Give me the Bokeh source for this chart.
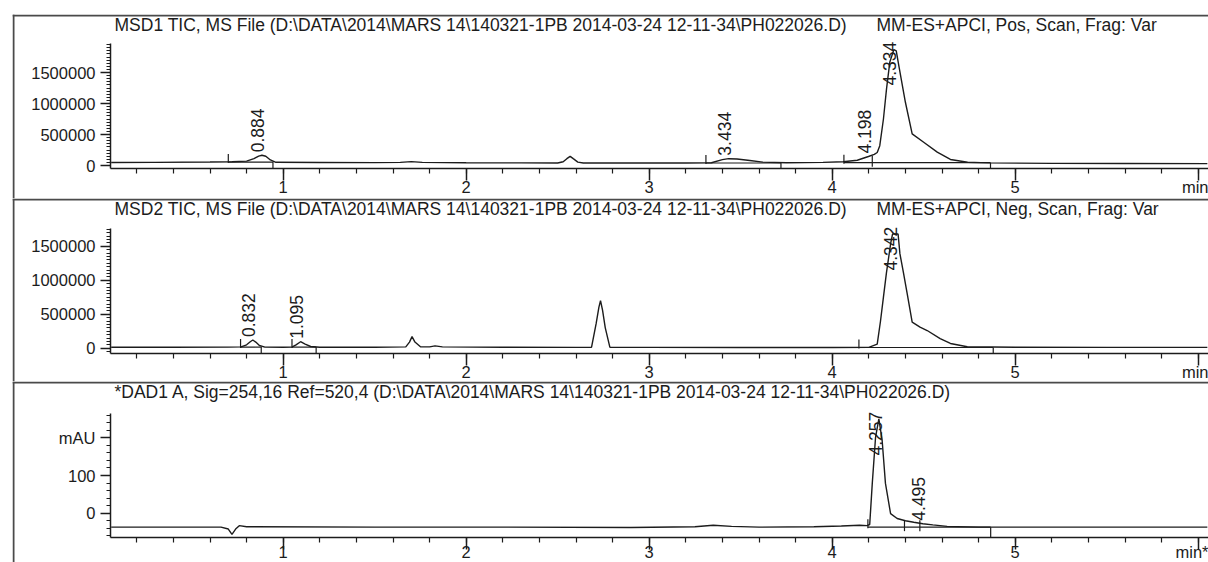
import math
from bokeh.plotting import figure
from bokeh.models import (LinearAxis, SingleIntervalTicker, Range1d, Label, Span,
                          BasicTickFormatter, ColumnDataSource)
from bokeh.layouts import column
from bokeh.embed import file_html
from bokeh.resources import INLINE
from bokeh.core.properties import value

# ---------------- data ----------------
# Panel 1: MSD1 TIC, positive scan
msd1_time = [0.06, 0.30, 0.60, 0.72, 0.80, 0.84, 0.866, 0.884, 0.905, 0.93, 0.96, 1.20, 1.50,
             1.64, 1.70, 1.76, 2.00, 2.30, 2.50, 2.53, 2.55, 2.568, 2.585, 2.61, 2.64, 2.90,
             3.20, 3.34, 3.40, 3.434, 3.48, 3.55, 3.62, 3.75, 3.95, 4.06, 4.137, 4.198, 4.23,
             4.246, 4.26, 4.28, 4.297, 4.315, 4.337, 4.35, 4.364, 4.40, 4.437, 4.50, 4.574,
             4.646, 4.74, 4.85, 5.20, 5.60, 6.05]
msd1_tic = [48000, 50000, 56000, 60000, 70000, 110000, 150000, 165000, 150000, 90000, 52000,
            48000, 46000, 50000, 62000, 50000, 45000, 42000, 40000, 60000, 110000, 148000,
            110000, 55000, 40000, 40000, 40000, 45000, 95000, 110000, 105000, 80000, 55000,
            45000, 50000, 60000, 85000, 145000, 180000, 210000, 320000, 750000, 1240000,
            1670000, 1870000, 1850000, 1610000, 1020000, 510000, 375000, 215000, 97000, 52000,
            42000, 35000, 32000, 30000]
msd1_peak_rt = [0.884, 3.434, 4.198, 4.334]
msd1_peak_height = [165000, 110000, 145000, 1870000]
msd1_int_start = [0.70, 3.31, 4.064]
msd1_int_end = [0.944, 3.72, 4.865]
msd1_int_level = [56000, 40000, 45000]
msd1_int_split = [4.219]

# Panel 2: MSD2 TIC, negative scan
msd2_time = [0.06, 0.40, 0.70, 0.77, 0.80, 0.82, 0.834, 0.85, 0.87, 0.90, 1.00, 1.05, 1.07,
             1.095, 1.12, 1.15, 1.20, 1.50, 1.67, 1.69, 1.704, 1.72, 1.75, 1.80, 1.83, 1.87,
             2.20, 2.60, 2.685, 2.71, 2.725, 2.734, 2.745, 2.76, 2.785, 3.00, 3.50, 4.00, 4.20,
             4.246, 4.264, 4.28, 4.296, 4.32, 4.33, 4.36, 4.37, 4.39, 4.41, 4.437, 4.48, 4.519,
             4.59, 4.646, 4.738, 5.00, 5.50, 6.05]
msd2_tic = [15000, 15000, 16000, 20000, 50000, 95000, 120000, 90000, 40000, 16000, 15000,
            18000, 50000, 95000, 60000, 25000, 15000, 15000, 20000, 90000, 170000, 90000,
            22000, 20000, 35000, 20000, 15000, 12000, 15000, 360000, 600000, 700000, 560000,
            300000, 15000, 12000, 10000, 10000, 12000, 60000, 400000, 750000, 1100000,
            1550000, 1680000, 1680000, 1390000, 1100000, 800000, 383000, 310000, 260000,
            142000, 70000, 22000, 15000, 12000, 12000]
msd2_peak_rt = [0.832, 1.095, 4.342]
msd2_peak_height = [120000, 95000, 1680000]
msd2_int_start = [0.767, 1.048, 4.146]
msd2_int_end = [0.88, 1.18, 4.88]
msd2_int_level = [16000, 16000, 10000]
msd2_int_split = []

# Panel 3: DAD1 A, 254 nm (mAU)
dad_time = [0.06, 0.40, 0.66, 0.70, 0.72, 0.74, 0.76, 0.80, 1.50, 2.20, 2.90, 3.25, 3.35,
            3.45, 3.60, 3.90, 4.05, 4.15, 4.19, 4.205, 4.219, 4.237, 4.255, 4.273, 4.291,
            4.319, 4.355, 4.40, 4.446, 4.495, 4.55, 4.628, 4.80, 5.50, 6.05]
dad_mau = [-37, -37, -37, -42, -56, -42, -33, -36, -37, -37, -38, -36, -32, -35, -37, -36,
           -34, -32, -33, -30, 79, 202, 250, 193, 79, -1, -14, -20, -24, -28, -31, -35, -37,
           -37, -37]
dad_peak_rt = [4.257, 4.495]
dad_peak_height = [250, -28]
dad_int_start = [4.195]
dad_int_end = [4.866]
dad_int_level = [-37]
dad_int_split = [4.395, 4.479]

titles_main = [
    "MSD1 TIC, MS File (D:\\DATA\\2014\\MARS 14\\140321-1PB 2014-03-24 12-11-34\\PH022026.D)",
    "MSD2 TIC, MS File (D:\\DATA\\2014\\MARS 14\\140321-1PB 2014-03-24 12-11-34\\PH022026.D)",
    "*DAD1 A, Sig=254,16 Ref=520,4 (D:\\DATA\\2014\\MARS 14\\140321-1PB 2014-03-24 12-11-34\\PH022026.D)",
]
titles_side = ["MM-ES+APCI, Pos, Scan, Frag: Var", "MM-ES+APCI, Neg, Scan, Frag: Var", ""]

# ---------------- layout constants ----------------
FONT = "Liberation Sans"
FS = "17.5px"        # titles and peak labels
FS_TICK = "16.5px"   # axis tick labels
INK = "#1c1c1c"
PX_T1 = 282.7      # page pixel of t = 1 min
PX_PER_MIN = 183.0


def tx(px):
    return 1 + (px - PX_T1) / PX_PER_MIN


def make_panel(time, sig, peak_rt, peak_h, i_start, i_end, i_level, i_split,
               title_a, title_b, frame_top, frame_bottom, canvas_top, zero_px, per_px,
               axis_px, ytop_px, y_interval, y_minor, x_over, y_over, x_standoff):
    def vy(px):
        return (zero_px - px) * per_px

    height = frame_bottom - canvas_top
    p = figure(width=1208, height=height, output_backend="svg", toolbar_location=None,
               x_range=Range1d(tx(12), tx(1208)),
               y_range=Range1d(vy(frame_bottom), vy(frame_top)),
               x_axis_type=None, y_axis_type=None,
               min_border_left=12, min_border_right=0,
               min_border_top=frame_top - canvas_top, min_border_bottom=0,
               outline_line_color=None, background_fill_color="white",
               border_fill_color="white")
    p.xgrid.visible = False
    p.ygrid.visible = False

    x_axis_y = vy(axis_px)
    xaxis = LinearAxis(ticker=SingleIntervalTicker(interval=1, num_minor_ticks=5),
                       fixed_location=x_axis_y, bounds=(tx(110), tx(1208)))
    yaxis = LinearAxis(ticker=SingleIntervalTicker(interval=y_interval, num_minor_ticks=y_minor),
                       formatter=BasicTickFormatter(use_scientific=False),
                       fixed_location=tx(110), bounds=(x_axis_y, vy(ytop_px)))
    for ax in (xaxis, yaxis):
        ax.axis_line_color = INK
        ax.axis_line_width = 1.5
        ax.major_tick_line_color = INK
        ax.major_tick_line_width = 1.5
        ax.minor_tick_line_color = INK
        ax.minor_tick_line_width = 1.2
        ax.major_tick_in = 0
        ax.minor_tick_in = 0
        ax.major_label_text_font = FONT
        ax.major_label_text_font_size = FS_TICK
        ax.major_label_text_color = INK
    xaxis.major_tick_out = 12
    xaxis.minor_tick_out = 5
    xaxis.major_label_standoff = x_standoff
    xaxis.major_label_overrides = x_over
    yaxis.major_tick_out = 10
    yaxis.minor_tick_out = 4
    yaxis.major_label_standoff = 5
    if y_over:
        yaxis.major_label_overrides = y_over
    p.add_layout(xaxis, "below")
    p.add_layout(yaxis, "left")

    # panel border lines
    p.add_layout(Span(location=tx(13), dimension="height", line_color="#4a4a4a", line_width=2))
    p.add_layout(Span(location=vy(frame_top + 1), dimension="width", line_color="#4a4a4a",
                      line_width=2))

    # trace
    p.line(time, sig, line_color=INK, line_width=1.4)

    # integration baselines and event marks
    xs0, ys0, xs1, ys1 = [], [], [], []
    for s, e, lv in zip(i_start, i_end, i_level):
        xs0 += [s, s, e]
        ys0 += [lv, lv - 1 * per_px, lv]
        xs1 += [e, s, e]
        ys1 += [lv, lv + 8 * per_px, x_axis_y]
    for sp in i_split:
        lv = i_level[0]
        for s, e, l in zip(i_start, i_end, i_level):
            if s <= sp <= e:
                lv = l
        xs0.append(sp)
        ys0.append(lv - 4 * per_px)
        xs1.append(sp)
        ys1.append(lv + 7 * per_px)
    p.segment(x0=xs0, y0=ys0, x1=xs1, y1=ys1, line_color=INK, line_width=1.2)

    # peak retention-time labels
    cap = vy(ytop_px + 45)
    lab_y = [min(h, cap) for h in peak_h]
    src = ColumnDataSource(dict(x=peak_rt, y=lab_y, t=[f"{r:.3f}" for r in peak_rt]))
    p.text(x="x", y="y", text="t", source=src, angle=math.pi / 2, text_align="left",
           text_baseline="alphabetic", x_offset=-4, y_offset=-3,
           text_font=value(FONT), text_font_size=value(FS), text_color=INK)

    # titles
    p.add_layout(Label(x=tx(114), y=vy(frame_top + 10), text=title_a, text_baseline="middle",
                       text_font=FONT, text_font_size=FS, text_color=INK))
    if title_b:
        p.add_layout(Label(x=tx(876), y=vy(frame_top + 10), text=title_b,
                           text_baseline="middle", text_font=FONT, text_font_size=FS,
                           text_color=INK))
    return p


p1 = make_panel(msd1_time, msd1_tic, msd1_peak_rt, msd1_peak_height, msd1_int_start,
                msd1_int_end, msd1_int_level, msd1_int_split, titles_main[0], titles_side[0],
                frame_top=14, frame_bottom=198, canvas_top=0, zero_px=165.0,
                per_px=500000 / 31.0, axis_px=168.0, ytop_px=43.0,
                y_interval=500000, y_minor=10, x_over={6: "min"}, y_over=None, x_standoff=-3)
p2 = make_panel(msd2_time, msd2_tic, msd2_peak_rt, msd2_peak_height, msd2_int_start,
                msd2_int_end, msd2_int_level, msd2_int_split, titles_main[1], titles_side[1],
                frame_top=198, frame_bottom=381, canvas_top=198, zero_px=347.7,
                per_px=500000 / 34.0, axis_px=353.0, ytop_px=228.0,
                y_interval=500000, y_minor=10, x_over={6: "min"}, y_over=None, x_standoff=-3)
p3 = make_panel(dad_time, dad_mau, dad_peak_rt, dad_peak_height, dad_int_start,
                dad_int_end, dad_int_level, dad_int_split, titles_main[2], titles_side[2],
                frame_top=381, frame_bottom=562, canvas_top=381, zero_px=512.7,
                per_px=100 / 37.7, axis_px=536.7, ytop_px=413.0,
                y_interval=100, y_minor=5, x_over={6: "min*"}, y_over={200: "mAU"},
                x_standoff=-6)

layout = column(p1, p2, p3, spacing=0)
open("out.html", "w").write(file_html(layout, INLINE))
